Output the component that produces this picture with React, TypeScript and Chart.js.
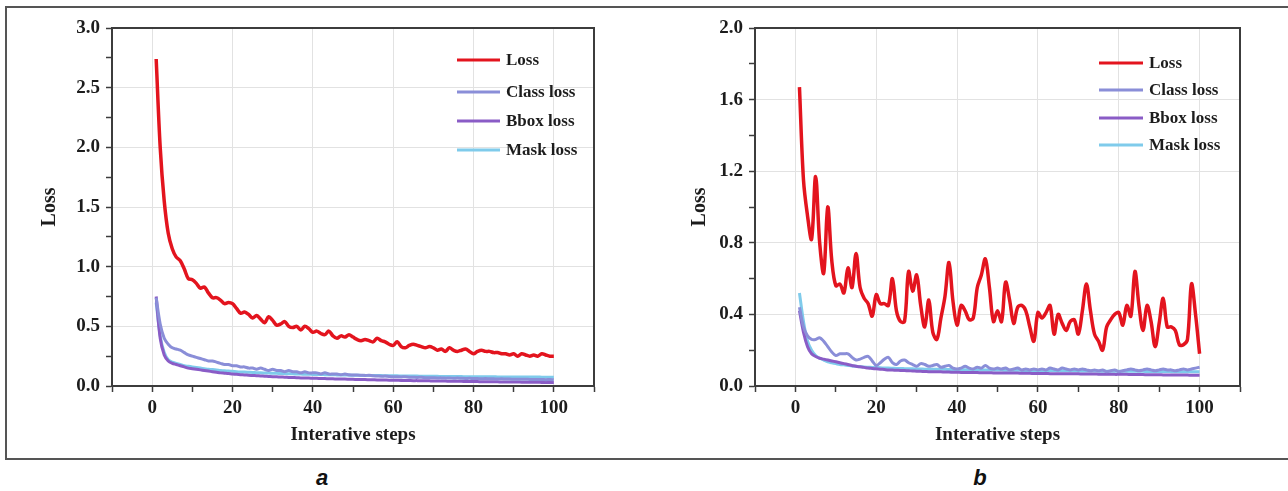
import React, { useEffect, useRef } from "react";
import { Chart, registerables } from "chart.js";

Chart.register(...registerables);

// ---------- data ----------
const steps = [
  1, 2, 3, 4, 5, 6, 7, 8, 9, 10, 11, 12, 13, 14, 15, 16, 17, 18, 19, 20,
  21, 22, 23, 24, 25, 26, 27, 28, 29, 30, 31, 32, 33, 34, 35, 36, 37, 38, 39, 40,
  41, 42, 43, 44, 45, 46, 47, 48, 49, 50, 51, 52, 53, 54, 55, 56, 57, 58, 59, 60,
  61, 62, 63, 64, 65, 66, 67, 68, 69, 70, 71, 72, 73, 74, 75, 76, 77, 78, 79, 80,
  81, 82, 83, 84, 85, 86, 87, 88, 89, 90, 91, 92, 93, 94, 95, 96, 97, 98, 99, 100,
];

const seriesNames = ["Loss", "Class loss", "Bbox loss", "Mask loss"];
const seriesColors = ["#e3141e", "#8a8ed8", "#8a5cc6", "#7fcbeb"];

// panel a
const lossA = [
  2.74, 2.0, 1.55, 1.28, 1.15, 1.08, 1.05, 0.98, 0.9, 0.89,
  0.86, 0.82, 0.83, 0.78, 0.74, 0.74, 0.72, 0.69, 0.7, 0.69,
  0.65, 0.61, 0.62, 0.6, 0.57, 0.59, 0.56, 0.53, 0.58, 0.55,
  0.51, 0.52, 0.54, 0.5, 0.49, 0.5, 0.47, 0.5, 0.48, 0.45,
  0.46, 0.44, 0.43, 0.46, 0.42, 0.4, 0.42, 0.41, 0.43, 0.41,
  0.39, 0.38, 0.39, 0.38, 0.37, 0.4, 0.38, 0.37, 0.35, 0.34,
  0.37, 0.33, 0.32, 0.34, 0.35, 0.34, 0.33, 0.32, 0.33, 0.32,
  0.3, 0.31, 0.29, 0.32, 0.3, 0.29, 0.3, 0.31, 0.29, 0.27,
  0.29, 0.3, 0.29, 0.29, 0.28, 0.28, 0.27, 0.27, 0.26, 0.27,
  0.25, 0.27, 0.26, 0.25, 0.26, 0.25, 0.27, 0.26, 0.25, 0.25,
];
const classA = [
  0.74, 0.52, 0.4, 0.35, 0.32, 0.31, 0.3, 0.28, 0.26, 0.25,
  0.24, 0.23, 0.22, 0.21, 0.21, 0.2, 0.19, 0.18, 0.18, 0.17,
  0.17, 0.16, 0.16, 0.15, 0.15, 0.14, 0.15, 0.14, 0.13, 0.14,
  0.13, 0.13, 0.12, 0.13, 0.12, 0.12, 0.11, 0.12, 0.11, 0.11,
  0.11, 0.1, 0.11, 0.1, 0.1, 0.1, 0.095, 0.1, 0.094, 0.093,
  0.092, 0.09, 0.088, 0.09, 0.085, 0.084, 0.082, 0.083, 0.08, 0.078,
  0.078, 0.076, 0.077, 0.074, 0.073, 0.072, 0.073, 0.07, 0.07, 0.069,
  0.068, 0.068, 0.066, 0.067, 0.065, 0.066, 0.064, 0.063, 0.064, 0.062,
  0.062, 0.061, 0.062, 0.06, 0.06, 0.059, 0.06, 0.058, 0.058, 0.057,
  0.057, 0.056, 0.057, 0.055, 0.055, 0.054, 0.055, 0.053, 0.054, 0.052,
];
const bboxA = [
  0.75, 0.4, 0.26, 0.21, 0.19, 0.18, 0.17, 0.16, 0.15, 0.145,
  0.14, 0.135, 0.13, 0.125, 0.12, 0.115, 0.11, 0.107, 0.104, 0.1,
  0.098, 0.095, 0.093, 0.09, 0.088, 0.086, 0.084, 0.082, 0.08, 0.078,
  0.077, 0.075, 0.074, 0.072, 0.071, 0.07, 0.068, 0.067, 0.066, 0.065,
  0.064, 0.063, 0.062, 0.061, 0.06, 0.059, 0.058, 0.058, 0.057, 0.056,
  0.055, 0.054, 0.054, 0.053, 0.052, 0.051, 0.051, 0.05, 0.049, 0.049,
  0.048, 0.047, 0.047, 0.046, 0.045, 0.045, 0.044, 0.044, 0.043, 0.042,
  0.042, 0.041, 0.041, 0.04, 0.04, 0.039, 0.039, 0.038, 0.038, 0.037,
  0.037, 0.036, 0.036, 0.035, 0.035, 0.035, 0.034, 0.034, 0.033, 0.033,
  0.033, 0.032, 0.032, 0.031, 0.031, 0.031, 0.03, 0.03, 0.03, 0.03,
];
const maskA = [
  0.7, 0.42, 0.28, 0.22, 0.2, 0.19, 0.18, 0.17, 0.165, 0.16,
  0.155, 0.15, 0.145, 0.14, 0.138, 0.135, 0.13, 0.128, 0.125, 0.123,
  0.12, 0.118, 0.117, 0.115, 0.113, 0.112, 0.11, 0.109, 0.108, 0.107,
  0.106, 0.105, 0.104, 0.103, 0.102, 0.101, 0.1, 0.099, 0.098, 0.097,
  0.096, 0.096, 0.095, 0.094, 0.094, 0.093, 0.092, 0.092, 0.091, 0.09,
  0.09, 0.089, 0.089, 0.088, 0.088, 0.087, 0.087, 0.086, 0.086, 0.085,
  0.085, 0.084, 0.084, 0.083, 0.083, 0.083, 0.082, 0.082, 0.081, 0.081,
  0.081, 0.08, 0.08, 0.08, 0.079, 0.079, 0.079, 0.078, 0.078, 0.078,
  0.078, 0.077, 0.077, 0.077, 0.077, 0.076, 0.076, 0.076, 0.076, 0.076,
  0.075, 0.075, 0.075, 0.075, 0.075, 0.075, 0.074, 0.074, 0.074, 0.074,
];

// panel b
const lossB = [
  1.67, 1.15, 0.95, 0.82, 1.17, 0.8, 0.63, 1.0, 0.7, 0.56,
  0.57, 0.52, 0.66, 0.55, 0.74, 0.55, 0.49, 0.46, 0.39, 0.51,
  0.46, 0.46, 0.45, 0.6, 0.42, 0.36, 0.36, 0.64, 0.53, 0.62,
  0.45, 0.33, 0.48, 0.3, 0.26, 0.38, 0.5, 0.69, 0.47, 0.34,
  0.45, 0.42, 0.37, 0.38, 0.55, 0.62, 0.71, 0.55, 0.36, 0.42,
  0.36, 0.58, 0.48, 0.35, 0.44, 0.45, 0.42, 0.33, 0.25, 0.41,
  0.38, 0.41, 0.45, 0.29, 0.4, 0.35, 0.31, 0.36, 0.37, 0.29,
  0.42, 0.57, 0.42, 0.29, 0.25, 0.2, 0.33, 0.37, 0.4, 0.41,
  0.34, 0.45, 0.39, 0.64, 0.45, 0.31, 0.45, 0.36, 0.22, 0.35,
  0.49, 0.33, 0.33, 0.31, 0.23, 0.23, 0.26, 0.57, 0.4, 0.18,
];
const classB = [
  0.44, 0.33, 0.28, 0.26, 0.26, 0.27, 0.25, 0.22, 0.19, 0.17,
  0.18, 0.18, 0.18, 0.16, 0.145, 0.15, 0.16, 0.165, 0.14, 0.115,
  0.13, 0.15, 0.16, 0.13, 0.12, 0.14, 0.145, 0.13, 0.12, 0.11,
  0.125, 0.12, 0.11, 0.115, 0.12, 0.105, 0.11, 0.115, 0.1, 0.095,
  0.1, 0.11, 0.1, 0.095, 0.105, 0.1, 0.115, 0.1, 0.095, 0.1,
  0.095, 0.1, 0.09, 0.095, 0.1, 0.09, 0.095, 0.09, 0.095, 0.09,
  0.095, 0.09, 0.1, 0.095, 0.09, 0.1, 0.095, 0.09, 0.095, 0.09,
  0.095, 0.09, 0.085, 0.09, 0.085, 0.09, 0.08, 0.085, 0.09, 0.08,
  0.085, 0.09, 0.095, 0.09, 0.085, 0.09, 0.095, 0.09, 0.085, 0.09,
  0.095, 0.09, 0.09, 0.085, 0.09, 0.095, 0.09, 0.095, 0.1, 0.105,
];
const bboxB = [
  0.42, 0.3, 0.22, 0.18, 0.165, 0.155, 0.15, 0.145, 0.14, 0.135,
  0.13, 0.125, 0.12, 0.115, 0.11, 0.107, 0.104, 0.1, 0.098, 0.096,
  0.094, 0.092, 0.09, 0.089, 0.088, 0.087, 0.086, 0.085, 0.084, 0.083,
  0.082, 0.081, 0.08, 0.08, 0.079, 0.079, 0.078, 0.078, 0.077, 0.077,
  0.076, 0.076, 0.075, 0.075, 0.075, 0.074, 0.074, 0.074, 0.073, 0.073,
  0.073, 0.072, 0.072, 0.072, 0.072, 0.071, 0.071, 0.071, 0.07, 0.07,
  0.07, 0.07, 0.069, 0.069, 0.069, 0.069, 0.068, 0.068, 0.068, 0.068,
  0.067, 0.067, 0.067, 0.067, 0.066, 0.066, 0.066, 0.066, 0.065, 0.065,
  0.065, 0.065, 0.064, 0.064, 0.064, 0.064, 0.063, 0.063, 0.063, 0.063,
  0.062, 0.062, 0.062, 0.062, 0.061, 0.061, 0.061, 0.06, 0.06, 0.06,
];
const maskB = [
  0.52, 0.36, 0.25, 0.2, 0.17, 0.155, 0.145, 0.135, 0.13, 0.125,
  0.12, 0.118, 0.115, 0.112, 0.11, 0.108, 0.106, 0.105, 0.104, 0.103,
  0.102, 0.1, 0.1, 0.099, 0.098, 0.098, 0.097, 0.096, 0.096, 0.095,
  0.095, 0.094, 0.094, 0.094, 0.093, 0.093, 0.093, 0.092, 0.092, 0.092,
  0.091, 0.091, 0.091, 0.09, 0.09, 0.09, 0.09, 0.089, 0.089, 0.089,
  0.089, 0.088, 0.088, 0.088, 0.088, 0.087, 0.087, 0.087, 0.087, 0.086,
  0.086, 0.086, 0.086, 0.086, 0.085, 0.085, 0.085, 0.085, 0.085, 0.084,
  0.084, 0.084, 0.084, 0.084, 0.083, 0.083, 0.083, 0.083, 0.083, 0.082,
  0.082, 0.082, 0.082, 0.082, 0.082, 0.082, 0.081, 0.081, 0.081, 0.081,
  0.081, 0.081, 0.08, 0.08, 0.08, 0.08, 0.08, 0.08, 0.08, 0.08,
];

const xMajorLabels = [0, 20, 40, 60, 80, 100];
const yMajorLabelsA = [0, 0.5, 1.0, 1.5, 2.0, 2.5, 3.0];
const yMajorLabelsB = [0, 0.4, 0.8, 1.2, 1.6, 2.0];

// ---------- styling ----------
const SERIF = '"Liberation Serif", "Times New Roman", serif';
const AXIS = "#3c3c3c";
const GRID = "#e2e2e2";
const TEXT = "#1c1c1c";

const framePlugin = {
  id: "frameBox",
  afterDatasetsDraw(chart: any) {
    const { ctx, chartArea } = chart;
    const { left, right, top, bottom } = chartArea;
    ctx.save();
    ctx.strokeStyle = AXIS;
    ctx.lineWidth = 2;
    ctx.beginPath();
    ctx.moveTo(left, top);
    ctx.lineTo(right, top);
    ctx.lineTo(right, bottom);
    ctx.stroke();
    ctx.restore();
  },
};

const innerLegendPlugin = {
  id: "innerLegend",
  afterDatasetsDraw(chart: any, _args: any, opts: any) {
    const { ctx, chartArea } = chart;
    ctx.save();
    chart.data.datasets.forEach((ds: any, i: number) => {
      const y = chartArea.top + opts.rows[i];
      ctx.strokeStyle = ds.borderColor;
      ctx.lineWidth = 3;
      ctx.beginPath();
      ctx.moveTo(chartArea.right - opts.lineStart, y);
      ctx.lineTo(chartArea.right - opts.lineEnd, y);
      ctx.stroke();
      ctx.fillStyle = TEXT;
      ctx.font = `bold 17px ${SERIF}`;
      ctx.textAlign = "left";
      ctx.textBaseline = "middle";
      ctx.fillText(ds.label, chartArea.right - opts.textStart, y + 1);
    });
    ctx.restore();
  },
};

function isMember(list: number[], v: number) {
  return list.some((m) => Math.abs(m - v) < 1e-6);
}

type PanelProps = {
  series: number[][];
  yMax: number;
  yStep: number;
  yMajor: number[];
  width: number;
  height: number;
  padLeft: number;
  padRight: number;
  yAxisWidth: number;
  legend: { rows: number[]; lineStart: number; lineEnd: number; textStart: number };
};

function Panel(p: PanelProps) {
  const ref = useRef<HTMLCanvasElement | null>(null);
  useEffect(() => {
    if (!ref.current) return;
    const datasets = p.series.map((vals, i) => ({
      label: seriesNames[i],
      data: steps.map((s, k) => ({ x: s, y: vals[k] })),
      borderColor: seriesColors[i],
      backgroundColor: seriesColors[i],
      borderWidth: i === 0 ? 3.5 : 3,
      pointRadius: 0,
      tension: 0.35,
      fill: false,
    }));
    const chart = new Chart(ref.current, {
      type: "line",
      data: { datasets },
      options: {
        animation: false,
        responsive: false,
        maintainAspectRatio: false,
        layout: { padding: { left: p.padLeft, right: p.padRight, top: 28, bottom: 0 } },
        plugins: {
          legend: { display: false },
          tooltip: { enabled: false },
          innerLegend: p.legend,
        } as any,
        scales: {
          x: {
            type: "linear",
            min: -10,
            max: 110,
            afterFit: (scale: any) => {
              scale.height = 70;
            },
            ticks: {
              stepSize: 10,
              autoSkip: false,
              maxRotation: 0,
              padding: 5,
              color: TEXT,
              font: { family: SERIF, size: 19, weight: "bold" },
              callback: (v: any) => (isMember(xMajorLabels, Number(v)) ? String(v) : ""),
            },
            grid: {
              color: (c: any) =>
                c.tick && isMember(xMajorLabels, c.tick.value) ? GRID : "rgba(0,0,0,0)",
              tickColor: AXIS,
              tickLength: 6,
              tickWidth: 1.5,
              lineWidth: 1,
            },
            border: { color: AXIS, width: 2 },
            title: {
              display: true,
              text: "Interative steps",
              color: TEXT,
              font: { family: SERIF, size: 19, weight: "bold" },
              padding: { top: 0, bottom: 10 },
            },
          },
          y: {
            type: "linear",
            min: 0,
            max: p.yMax,
            afterFit: (scale: any) => {
              scale.width = p.yAxisWidth;
            },
            ticks: {
              stepSize: p.yStep,
              autoSkip: false,
              padding: 6,
              color: TEXT,
              font: { family: SERIF, size: 19, weight: "bold" },
              callback: (v: any) => (isMember(p.yMajor, Number(v)) ? Number(v).toFixed(1) : ""),
            },
            grid: {
              color: (c: any) =>
                c.tick && isMember(p.yMajor, c.tick.value) ? GRID : "rgba(0,0,0,0)",
              tickColor: AXIS,
              tickLength: 6,
              tickWidth: 1.5,
              lineWidth: 1,
            },
            border: { color: AXIS, width: 2 },
            title: {
              display: true,
              text: "Loss",
              color: TEXT,
              font: { family: SERIF, size: 20, weight: "bold" },
              padding: { top: 4, bottom: 0 },
            },
          },
        },
      },
      plugins: [framePlugin, innerLegendPlugin],
    } as any);
    return () => chart.destroy();
  }, []);
  return (
    <canvas
      ref={ref}
      width={p.width}
      height={p.height}
      style={{ width: p.width, height: p.height, display: "block" }}
    />
  );
}

export default function App() {
  return (
    <div
      style={{
        position: "absolute",
        left: 0,
        top: 0,
        width: 1288,
        height: 491,
        background: "#ffffff",
        overflow: "hidden",
      }}
    >
      <div
        style={{
          position: "absolute",
          left: 5,
          top: 6,
          width: 1300,
          height: 450,
          borderTop: "2px solid #555",
          borderLeft: "2px solid #555",
          borderBottom: "2px solid #555",
        }}
      />
      <div style={{ position: "absolute", left: 0, top: 0 }}>
        <Panel
          series={[lossA, classA, bboxA, maskA]}
          yMax={3}
          yStep={0.25}
          yMajor={yMajorLabelsA}
          width={640}
          height={456}
          padLeft={34}
          padRight={46}
          yAxisWidth={78}
          legend={{ rows: [32, 64, 93, 122], lineStart: 137, lineEnd: 94, textStart: 88 }}
        />
      </div>
      <div style={{ position: "absolute", left: 640, top: 0 }}>
        <Panel
          series={[lossB, classB, bboxB, maskB]}
          yMax={2}
          yStep={0.2}
          yMajor={yMajorLabelsB}
          width={648}
          height={456}
          padLeft={44}
          padRight={48}
          yAxisWidth={71}
          legend={{ rows: [35, 62, 90, 117], lineStart: 141, lineEnd: 97, textStart: 91 }}
        />
      </div>
      <div
        style={{
          position: "absolute",
          left: 272,
          width: 100,
          top: 466,
          textAlign: "center",
          font: 'italic bold 22px "Liberation Sans", Arial, sans-serif',
          color: "#111",
          lineHeight: "24px",
        }}
      >
        a
      </div>
      <div
        style={{
          position: "absolute",
          left: 930,
          width: 100,
          top: 466,
          textAlign: "center",
          font: 'italic bold 22px "Liberation Sans", Arial, sans-serif',
          color: "#111",
          lineHeight: "24px",
        }}
      >
        b
      </div>
    </div>
  );
}
